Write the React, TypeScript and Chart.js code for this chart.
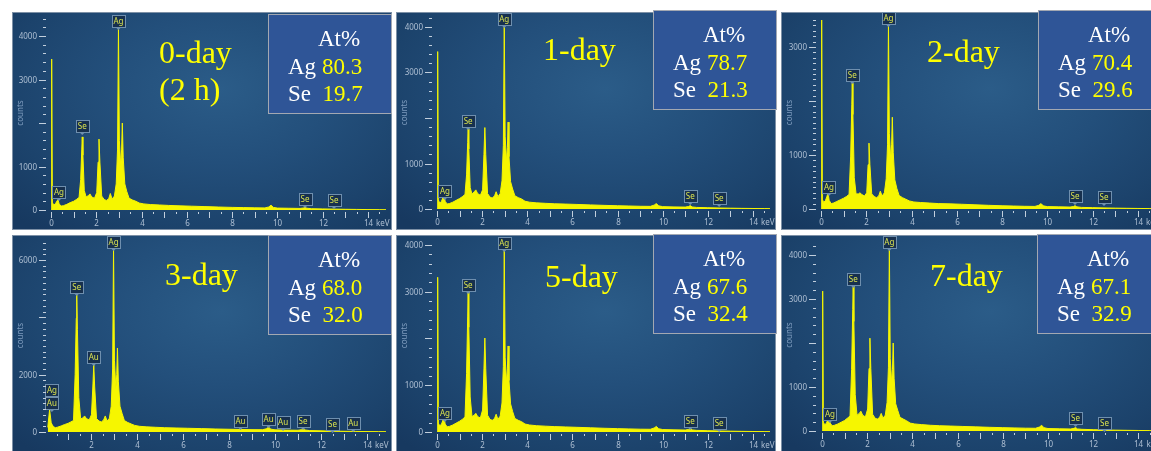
import React, { useEffect, useRef } from 'react';
import { Chart, registerables } from 'chart.js';

Chart.register(...registerables);

// ---------- DATA ----------
const energyKeV = [
  0.00, 0.03, 0.06, 0.12, 0.20, 0.27, 0.31, 0.36, 0.45, 0.55,
  0.70, 0.85, 1.00, 1.12, 1.24, 1.31, 1.36, 1.38, 1.41, 1.47,
  1.55, 1.65, 1.72, 1.80, 1.92, 2.02, 2.08, 2.12, 2.16, 2.24,
  2.35, 2.45, 2.55, 2.62, 2.70, 2.80, 2.88, 2.94, 2.98, 3.02,
  3.08, 3.12, 3.15, 3.19, 3.26, 3.35, 3.45, 3.60, 3.75, 3.90,
  4.10, 4.40, 4.80, 5.20, 5.70, 6.20, 6.80, 7.40, 8.00, 8.50,
  9.00, 9.45, 9.62, 9.72, 9.82, 10.00, 10.50, 11.00, 11.15, 11.22,
  11.30, 11.50, 12.00, 12.50, 13.00, 13.50, 14.00, 14.50, 14.90,
];

const counts0day = [
  0, 3470, 180, 110, 150, 210, 240, 140, 90, 100,
  130, 170, 200, 240, 290, 700, 1400, 1680, 1260, 450,
  300, 330, 370, 300, 270, 400, 1100, 1630, 1100, 320,
  240, 220, 260, 380, 250, 320, 600, 1400, 4200, 1600,
  1000, 1400, 2000, 1200, 600, 420, 270, 230, 200, 160,
  140, 125, 115, 105, 95, 88, 78, 68, 60, 55,
  50, 48, 70, 110, 60, 44, 40, 36, 45, 65,
  40, 30, 25, 20, 16, 13, 10, 8, 6,
];
const counts1day = [
  0, 3460, 200, 130, 170, 260, 330, 170, 110, 120,
  150, 190, 230, 270, 320, 750, 1460, 1760, 1320, 470,
  330, 380, 420, 340, 300, 420, 1200, 1790, 1200, 340,
  260, 240, 290, 380, 270, 340, 620, 1400, 4050, 1600,
  1050, 1350, 1910, 1150, 600, 440, 290, 250, 220, 170,
  150, 135, 125, 115, 108, 100, 90, 80, 72, 66,
  60, 58, 85, 120, 70, 52, 46, 42, 55, 75,
  45, 35, 28, 22, 18, 14, 11, 9, 7,
];
const counts2day = [
  0, 3500, 180, 120, 160, 240, 310, 160, 100, 110,
  140, 170, 200, 230, 270, 980, 1930, 2330, 1750, 580,
  280, 280, 300, 270, 240, 300, 820, 1220, 820, 280,
  230, 210, 240, 330, 240, 300, 560, 1200, 3440, 1400,
  900, 1200, 1700, 1050, 540, 380, 250, 210, 180, 150,
  130, 120, 110, 100, 95, 88, 78, 68, 60, 55,
  50, 48, 68, 100, 58, 44, 40, 36, 45, 62,
  40, 30, 25, 20, 16, 13, 10, 8, 6,
];
const counts3day = [
  null, null, null, 160, 780, 320, 260, 190, 150, 170,
  210, 260, 300, 350, 400, 2000, 3970, 4780, 3580, 1200,
  460, 490, 560, 470, 420, 600, 1570, 2340, 1570, 470,
  380, 350, 420, 560, 380, 480, 900, 2200, 6420, 2500,
  1500, 2000, 2930, 1750, 900, 650, 400, 330, 280, 230,
  200, 180, 165, 150, 140, 130, 118, 105, 95, 88,
  82, 80, 110, 170, 100, 75, 66, 60, 80, 120,
  70, 50, 40, 30, 25, 20, 15, 12, 10,
];
const counts5day = [
  0, 3310, 190, 130, 170, 260, 340, 170, 110, 120,
  150, 190, 230, 270, 320, 1250, 2480, 2990, 2240, 750,
  330, 360, 400, 330, 300, 470, 1350, 2010, 1350, 360,
  270, 250, 290, 380, 270, 340, 620, 1400, 3940, 1600,
  1050, 1350, 1840, 1100, 600, 440, 290, 250, 220, 170,
  150, 135, 125, 115, 108, 100, 90, 80, 72, 66,
  60, 58, 85, 120, 70, 52, 46, 42, 55, 75,
  45, 35, 28, 22, 18, 14, 11, 9, 7,
];
const counts7day = [
  0, 3180, 200, 140, 180, 280, 360, 180, 120, 130,
  160, 200, 240, 290, 340, 1400, 2760, 3320, 2490, 830,
  360, 400, 450, 360, 320, 500, 1420, 2110, 1420, 380,
  290, 270, 310, 400, 290, 360, 650, 1450, 4200, 1650,
  1100, 1400, 2000, 1200, 620, 470, 310, 270, 230, 180,
  160, 145, 130, 120, 112, 104, 94, 84, 76, 70,
  64, 62, 90, 130, 75, 56, 50, 46, 60, 80,
  48, 38, 30, 24, 19, 15, 12, 9, 7,
];

// peak tags: [element, keV, counts at pointer tip]
const tags0day = [['Ag', 0.35, 230], ['Se', 1.38, 1750], ['Ag', 2.98, 4160], ['Se', 11.22, 70], ['Se', 12.5, 46]];
const tags1day = [['Ag', 0.35, 220], ['Se', 1.38, 1760], ['Ag', 2.98, 4000], ['Se', 11.22, 110], ['Se', 12.5, 66]];
const tags2day = [['Ag', 0.35, 260], ['Se', 1.38, 2333], ['Ag', 2.98, 3390], ['Se', 11.22, 93], ['Se', 12.5, 74]];
const tags3day = [
  ['Ag', 0.3, 1186], ['Au', 0.3, 732], ['Se', 1.38, 4778], ['Au', 2.12, 2337], ['Ag', 2.98, 6348],
  ['Au', 8.5, 105], ['Au', 9.72, 174], ['Au', 10.35, 70], ['Se', 11.22, 105], ['Se', 12.5, 10], ['Au', 13.4, 35],
];
const tags5day = [['Ag', 0.35, 235], ['Se', 1.38, 2973], ['Ag', 2.98, 3872], ['Se', 11.22, 64], ['Se', 12.5, 21]];
const tags7day = [['Ag', 0.35, 205], ['Se', 1.38, 3273], ['Ag', 2.98, 4114], ['Se', 11.22, 114], ['Se', 12.5, 10]];

const panelTitles = [['0-day', '(2 h)'], ['1-day'], ['2-day'], ['3-day'], ['5-day'], ['7-day']];
const agAtPct = ['80.3', '78.7', '70.4', '68.0', '67.6', '67.1'];
const seAtPct = ['19.7', '21.3', '29.6', '32.0', '32.4', '32.9'];
const yTickLabels = [
  [0, 1000, 3000, 4000],
  [0, 1000, 3000, 4000],
  [0, 1000, 3000],
  [0, 2000, 6000],
  [0, 1000, 3000, 4000],
  [0, 1000, 3000, 4000],
];

const allCounts = [counts0day, counts1day, counts2day, counts3day, counts5day, counts7day];
const allTags = [tags0day, tags1day, tags2day, tags3day, tags5day, tags7day];

// ---------- LAYOUT ----------
const PW = 380;
const PH = 218;
const PAD_R = 6;
const PAD_T = 4;

const layouts = [
  { left: 12, top: 12, zeroRel: 198, x0Rel: 39, pxKeV: 22.64, px1000: 43.5, padL: 35, minor: 200, major: 1000, box: { x: 268, y: 14 }, title: { x: 159, y: 33.7 } },
  { left: 396, top: 12, zeroRel: 197, x0Rel: 41, pxKeV: 22.57, px1000: 45.5, padL: 37, minor: 200, major: 1000, box: { x: 653, y: 10 }, title: { x: 543, y: 30.7 } },
  { left: 781, top: 12, zeroRel: 197, x0Rel: 40, pxKeV: 22.64, px1000: 54, padL: 36, minor: 100, major: 1000, box: { x: 1038, y: 10 }, title: { x: 927, y: 32.7 } },
  { left: 12, top: 235, zeroRel: 197, x0Rel: 33, pxKeV: 23, px1000: 28.67, padL: 35, minor: 200, major: 2000, box: { x: 268, y: 235 }, title: { x: 165, y: 255.7 } },
  { left: 396, top: 235, zeroRel: 197, x0Rel: 41, pxKeV: 22.57, px1000: 46.75, padL: 37, minor: 200, major: 1000, box: { x: 653, y: 234 }, title: { x: 545, y: 257.7 } },
  { left: 781, top: 235, zeroRel: 196, x0Rel: 41, pxKeV: 22.6, px1000: 44, padL: 36, minor: 200, major: 1000, box: { x: 1037, y: 234 }, title: { x: 930, y: 256.7 } },
];

const SANS = '"Noto Sans", "DejaVu Sans", sans-serif';
const SERIF = '"Liberation Serif", "Times New Roman", serif';

function makeAxesPlugin(L: any, yLabels: number[]) {
  return {
    id: 'edsAxes',
    afterDraw(chart: any) {
      const { ctx, chartArea: a, scales } = chart;
      const x = scales.x;
      const y = scales.y;
      ctx.save();
      ctx.lineWidth = 1;
      ctx.strokeStyle = '#c2cfdd';
      ctx.fillStyle = '#aebfd3';
      ctx.font = '8px ' + SANS;
      // y ticks
      ctx.textAlign = 'right';
      ctx.textBaseline = 'middle';
      for (let k = 0; k * L.minor <= y.max; k++) {
        const v = k * L.minor;
        const py = Math.round(y.getPixelForValue(v)) + 0.5;
        const major = v % L.major === 0;
        ctx.beginPath();
        ctx.moveTo(a.left - (major ? 8 : 4), py);
        ctx.lineTo(a.left - 1, py);
        ctx.stroke();
        if (yLabels.includes(v)) ctx.fillText(String(v), a.left - 10, py);
      }
      // x ticks
      ctx.textAlign = 'center';
      const top = Math.min(x.max, 14.5);
      for (let k = Math.ceil(x.min * 2); k / 2 <= top; k++) {
        const v = k / 2;
        if (v < 0) continue;
        const px = Math.round(x.getPixelForValue(v)) + 0.5;
        const isInt = k % 2 === 0;
        ctx.beginPath();
        ctx.moveTo(px, a.bottom + 2);
        ctx.lineTo(px, a.bottom + (isInt ? 8 : 4));
        ctx.stroke();
        if (isInt && v % 2 === 0) ctx.fillText(String(v), px, a.bottom + 14);
      }
      ctx.textAlign = 'left';
      ctx.fillText('keV', x.getPixelForValue(14) + 8, a.bottom + 14);
      // axis title
      ctx.translate(8.5, (a.top + a.bottom) / 2);
      ctx.rotate(-Math.PI / 2);
      ctx.textAlign = 'center';
      ctx.fillStyle = '#7d9bbd';
      ctx.font = '8px ' + SANS;
      ctx.fillText('counts', 0, 0);
      ctx.restore();
    },
  };
}

function makeTagsPlugin(tags: any[]) {
  return {
    id: 'peakTags',
    afterDatasetsDraw(chart: any) {
      const { ctx, scales } = chart;
      const x = scales.x;
      const y = scales.y;
      ctx.save();
      ctx.lineWidth = 1;
      for (const [el, kev, c] of tags) {
        const px = x.getPixelForValue(kev);
        const py = y.getPixelForValue(c);
        const w = 13;
        const h = 12;
        const bx = Math.round(px - w / 2) + 0.5;
        const by = Math.round(py - 2 - h) + 0.5;
        ctx.fillStyle = '#17304e';
        ctx.fillRect(bx, by, w, h);
        ctx.strokeStyle = '#6f8fae';
        ctx.strokeRect(bx, by, w, h);
        ctx.beginPath();
        ctx.moveTo(px - 2.5, by + h);
        ctx.lineTo(px, by + h + 2.5);
        ctx.lineTo(px + 2.5, by + h);
        ctx.closePath();
        ctx.fillStyle = '#6f8fae';
        ctx.fill();
        ctx.fillStyle = '#d9e250';
        ctx.font = '8px ' + SANS;
        ctx.textAlign = 'center';
        ctx.textBaseline = 'middle';
        ctx.fillText(el, px, by + h / 2 + 0.5);
      }
      ctx.restore();
    },
  };
}

function SpectrumPanel({ idx }: { idx: number }) {
  const ref = useRef<HTMLCanvasElement | null>(null);
  const L = layouts[idx];
  useEffect(() => {
    if (!ref.current) return;
    const xMin = (L.padL - L.x0Rel) / L.pxKeV;
    const xMax = xMin + (PW - L.padL - PAD_R) / L.pxKeV;
    const yMax = ((L.zeroRel - PAD_T) / L.px1000) * 1000;
    const counts = allCounts[idx];
    const chart = new Chart(ref.current, {
      type: 'line',
      data: {
        datasets: [
          {
            data: energyKeV.map((e, i) => ({ x: e, y: counts[i] })),
            borderColor: '#f6f600',
            backgroundColor: '#f6f600',
            borderWidth: 1,
            fill: 'origin',
            pointRadius: 0,
            tension: 0,
            spanGaps: false,
          },
        ],
      },
      options: {
        animation: false,
        responsive: false,
        events: [],
        layout: { padding: { left: L.padL, right: PAD_R, top: PAD_T, bottom: PH - L.zeroRel } },
        plugins: { legend: { display: false }, tooltip: { enabled: false } },
        scales: {
          x: { type: 'linear', min: xMin, max: xMax, display: false },
          y: { type: 'linear', min: 0, max: yMax, display: false },
        },
      },
      plugins: [makeAxesPlugin(L, yTickLabels[idx]), makeTagsPlugin(allTags[idx])],
    } as any);
    return () => chart.destroy();
  }, [idx]);

  const lines = panelTitles[idx];
  return (
    <>
      <div
        style={{
          position: 'absolute',
          left: L.left,
          top: L.top,
          width: PW,
          height: PH,
          boxSizing: 'border-box',
          background:
            'radial-gradient(ellipse 75% 85% at 55% 35%, #2b5c88 0%, #234f7b 40%, #1c436c 75%, #173960 100%)',
          boxShadow: 'inset 0 0 0 1px #7d90a6',
        }}
      >
        <canvas ref={ref} width={PW} height={PH} style={{ position: 'absolute', left: 0, top: 0 }} />
      </div>
      {lines.map((t, i) => (
        <div
          key={i}
          style={{
            position: 'absolute',
            left: L.title.x,
            top: L.title.y + i * 37,
            fontFamily: SERIF,
            fontSize: 32,
            lineHeight: '37px',
            color: '#ffff00',
            whiteSpace: 'pre',
          }}
        >
          {t}
        </div>
      ))}
      <div
        style={{
          position: 'absolute',
          left: L.box.x,
          top: L.box.y,
          width: 124,
          height: 100,
          boxSizing: 'border-box',
          background: '#2f5597',
          border: '1px solid #a3a8b2',
          fontFamily: SERIF,
          fontSize: 23,
          lineHeight: '27px',
          color: '#ffffff',
          whiteSpace: 'pre',
        }}
      >
        <div style={{ position: 'absolute', left: 49, top: 9.7 }}>At%</div>
        <div style={{ position: 'absolute', left: 19, top: 38 }}>
          Ag <span style={{ color: '#ffff00' }}>{agAtPct[idx]}</span>
        </div>
        <div style={{ position: 'absolute', left: 19, top: 64.5 }}>
          Se  <span style={{ color: '#ffff00' }}>{seAtPct[idx]}</span>
        </div>
      </div>
    </>
  );
}

export default function App() {
  return (
    <div
      style={{
        position: 'absolute',
        left: 0,
        top: 0,
        width: 1151,
        height: 451,
        overflow: 'hidden',
        background: '#ffffff',
      }}
    >
      {layouts.map((_, i) => (
        <SpectrumPanel key={i} idx={i} />
      ))}
    </div>
  );
}
